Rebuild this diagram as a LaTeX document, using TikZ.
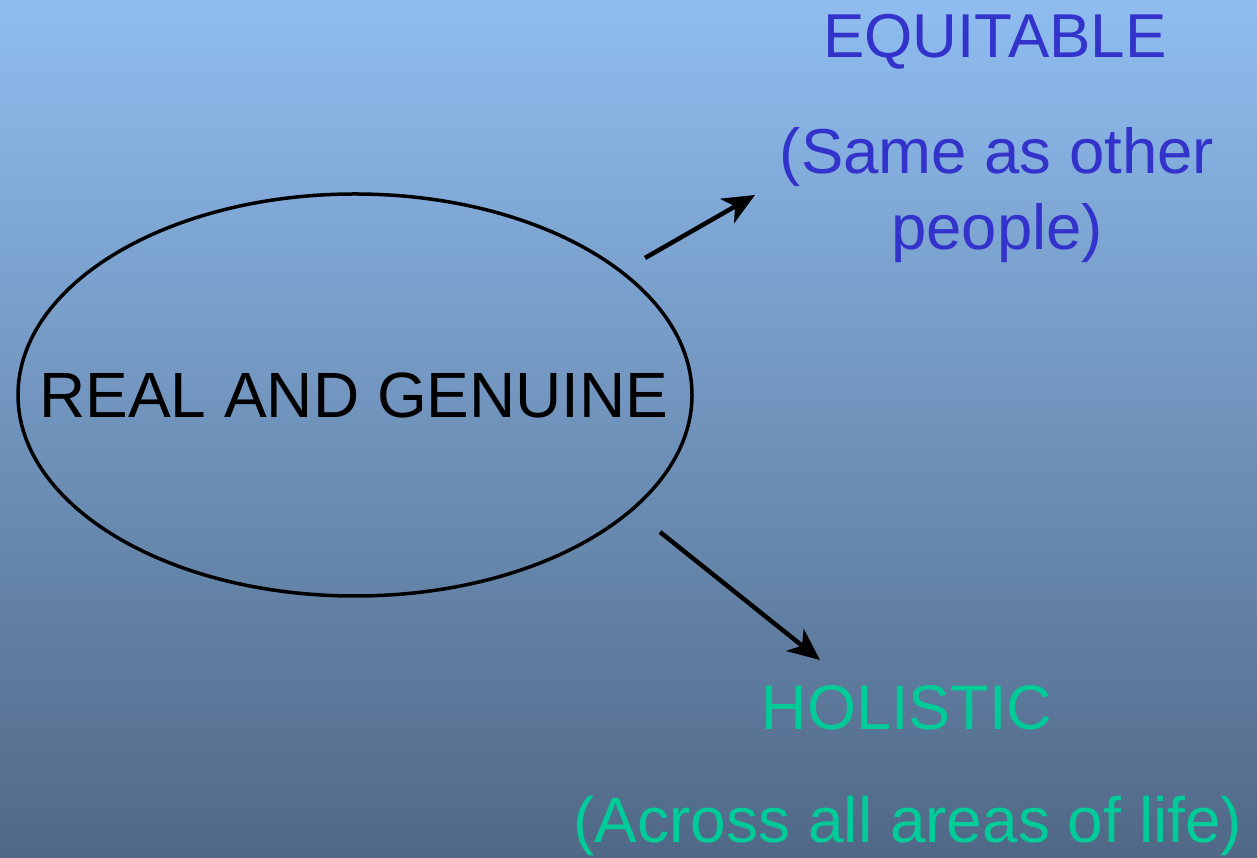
\documentclass[tikz,border=0pt]{standalone}
\usepackage{fontspec}
\setmainfont{Liberation Sans}
\usetikzlibrary{arrows.meta,shapes.geometric}
\definecolor{bgtop}{RGB}{143,189,240}
\definecolor{bgbot}{RGB}{80,104,134}
\definecolor{eqblue}{RGB}{51,51,204}
\definecolor{holgreen}{RGB}{0,204,153}
\tikzset{
  x=1pt,y=1pt,
  bigtext/.style={font=\fontsize{62}{76}\selectfont, inner sep=0pt, align=center},
  conn/.style={line width=4.5pt, -{Stealth[length=32pt,width=28pt,inset=9pt]}},
}
\begin{document}
\begin{tikzpicture}
\shade[top color=bgtop, bottom color=bgbot] (0,0) rectangle (1257,858);
\useasboundingbox (0,0) rectangle (1257,858);
\node[draw=black, line width=3.5pt, ellipse, minimum width=674pt, minimum height=402pt, inner sep=0pt] (ell) at (355,463) {};
\node[bigtext, anchor=base, font=\fontsize{64}{76}\selectfont] (real) at (354,440) {REAL AND GENUINE};
\node[bigtext, anchor=base, text=eqblue] (eq) at (995,800) {EQUITABLE};
\node[bigtext, anchor=base, text=eqblue, font=\fontsize{63.5}{76}\selectfont] (same) at (997,608) {(Same as other\\people)};
\node[bigtext, anchor=base, text=holgreen, font=\fontsize{63}{76}\selectfont] (hol) at (907,128) {HOLISTIC};
\node[bigtext, anchor=base, text=holgreen, font=\fontsize{64}{76}\selectfont] (across) at (908,15) {(Across all areas of life)};
\coordinate (a1s) at (645,600);
\coordinate (a1e) at (755,663);
\coordinate (a2s) at (660,326);
\coordinate (a2e) at (820,198);
\draw[conn] (a1s) -- (a1e);
\draw[conn] (a2s) -- (a2e);
\end{tikzpicture}
\end{document}
